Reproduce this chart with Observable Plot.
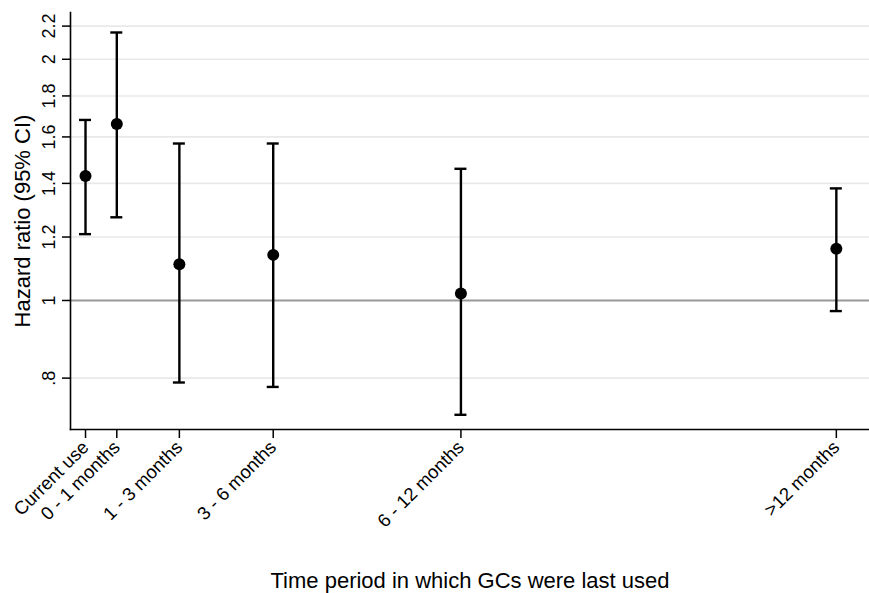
<!DOCTYPE html>
<html>
<head>
<meta charset="utf-8">
<script src="https://cdn.jsdelivr.net/npm/d3@7"></script>
<script src="https://cdn.jsdelivr.net/npm/@observablehq/plot@0.6"></script>
<style>
  html, body { margin: 0; padding: 0; background: #fff; }
  #chart svg { display: block; }
</style>
</head>
<body>
<div id="chart"></div>
<script>
// Categories and their position on the time axis (months)
const categories = ["Current use", "0 - 1 months", "1 - 3 months", "3 - 6 months", "6 - 12 months", ">12 months"];
const positions = [0, 1, 3, 6, 12, 24];
// Hazard ratios and 95% CIs
const hr    = [1.43, 1.66, 1.11, 1.14, 1.02, 1.16];
const lower = [1.21, 1.27, 0.79, 0.78, 0.72, 0.97];
const upper = [1.68, 2.16, 1.57, 1.57, 1.46, 1.38];
// Y tick values and labels
const yTicks = [0.8, 1, 1.2, 1.4, 1.6, 1.8, 2, 2.2];
const yTickLabels = [".8", "1", "1.2", "1.4", "1.6", "1.8", "2", "2.2"];

const data = categories.map((c, i) => ({cat: c, x: positions[i], hr: hr[i], lo: lower[i], hi: upper[i]}));

const font = "'Liberation Sans', Arial, Helvetica, sans-serif";

const chart = Plot.plot({
  width: 869,
  height: 593,
  marginLeft: 70,
  marginRight: 0,
  marginTop: 12,
  marginBottom: 164,
  style: {fontFamily: font, background: "#fff", color: "#000"},
  x: {type: "linear", domain: [-0.48, 25.06]},
  y: {type: "log", domain: [0.6902, 2.2877]},
  marks: [
    Plot.gridY(yTicks.filter(v => v !== 1), {stroke: "#e9e9e9", strokeOpacity: 1, strokeWidth: 1.6}),
    Plot.ruleY([1], {stroke: "#999999", strokeWidth: 2}),
    // error bars
    Plot.ruleX(data, {x: "x", y1: "lo", y2: "hi", stroke: "#000", strokeWidth: 2.4}),
    Plot.ruleY(data, {y: "lo", x1: "x", x2: "x", insetLeft: -6, insetRight: -6, stroke: "#000", strokeWidth: 2.4}),
    Plot.ruleY(data, {y: "hi", x1: "x", x2: "x", insetLeft: -6, insetRight: -6, stroke: "#000", strokeWidth: 2.4}),
    Plot.dot(data, {x: "x", y: "hr", r: 6, fill: "#000", stroke: "none"}),
    // axes
    Plot.axisY({
      ticks: yTicks,
      tickFormat: (d) => yTickLabels[yTicks.indexOf(d)],
      tickSize: 8,
      tickPadding: 8,
      tickRotate: -90,
      fontSize: 18,
      label: null,
      stroke: "#000",
      strokeWidth: 1.5
    }),
    Plot.axisX({
      ticks: positions,
      tickFormat: (d) => categories[positions.indexOf(d)],
      tickSize: 9,
      tickRotate: -45,
      fontSize: 18.5,
      label: null,
      stroke: "#000",
      strokeWidth: 1.5
    }),
    Plot.frame({anchor: "left", stroke: "#000", strokeWidth: 1.6}),
    Plot.frame({anchor: "bottom", stroke: "#000", strokeWidth: 1.6}),
    Plot.text(["Hazard ratio (95% CI)"], {frameAnchor: "left", dx: -48, rotate: -90, fontSize: 22, fill: "#000", textAnchor: "middle", lineAnchor: "middle"}),
    Plot.text(["Time period in which GCs were last used"], {frameAnchor: "bottom", dy: 151, fontSize: 22, fill: "#000", textAnchor: "middle", lineAnchor: "middle"})
  ]
});
document.getElementById("chart").appendChild(chart);
</script>
</body>
</html>
